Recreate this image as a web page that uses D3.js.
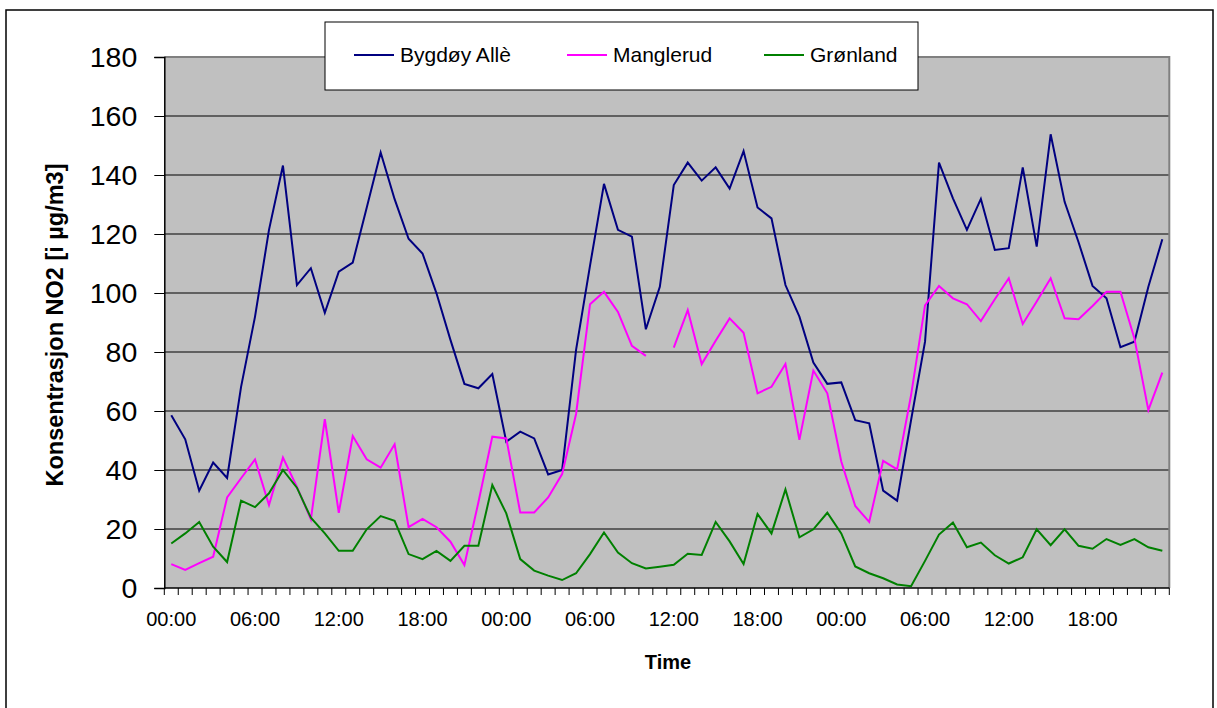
<!DOCTYPE html>
<html>
<head>
<meta charset="utf-8">
<script src="https://cdn.jsdelivr.net/npm/d3@7"></script>
<style>
  body { margin: 0; background: #fff; }
  text { font-family: "Liberation Sans", Arial, sans-serif; fill: #000; }
</style>
</head>
<body>
<div id="chart"></div>
<script>
// hourly NO2 values, 3 days (72 hours)
var bygdoy = [58.6,50.4,33.0,42.5,37.3,68.2,92.0,121.4,143.2,102.7,108.4,93.3,107.2,110.3,128.9,147.6,131.8,118.4,113.4,99.9,84.1,69.2,67.7,72.5,
              49.6,53.0,50.7,38.5,40.0,80.7,109.3,137.0,121.4,119.1,87.7,102.1,136.6,144.2,138.1,142.6,135.4,148.1,129.0,125.3,102.7,92.0,76.4,69.2,
              69.7,56.9,55.8,33.0,29.6,56.9,83.5,144.2,132.1,121.4,131.9,114.6,115.2,142.6,115.7,153.8,130.9,117.2,102.4,98.2,81.6,83.5,102.1,118.2];
var manglerud = [8.1,6.1,8.4,10.6,30.7,37.2,43.6,28.1,44.2,34.3,23.3,57.2,25.5,51.5,43.6,40.8,48.7,20.6,23.4,20.6,15.7,7.8,29.0,51.3,
                 50.7,25.6,25.6,30.7,38.6,59.0,96.2,100.4,93.6,82.1,78.7,null,81.5,94.2,75.9,83.8,91.4,86.5,66.0,68.2,75.9,50.2,73.7,66.0,
                 42.9,27.8,22.4,43.1,40.2,65.4,95.8,102.4,98.2,96.2,90.5,97.9,105.0,89.5,97.1,105.0,91.4,91.1,95.6,100.4,100.4,84.6,60.3,73.0];
var gronland = [15.1,18.5,22.4,14.0,8.8,29.6,27.4,32.1,40.0,34.0,23.8,18.5,12.6,12.6,19.9,24.4,22.8,11.5,9.8,12.6,9.2,14.3,14.3,34.9,
                25.3,9.8,5.9,4.2,2.7,5.0,11.5,18.8,12.0,8.4,6.6,7.2,7.9,11.6,11.2,22.4,15.8,8.1,25.1,18.5,33.4,17.2,19.9,25.5,
                18.5,7.3,5.0,3.3,1.2,0.6,9.2,18.1,22.2,13.8,15.4,11.1,8.3,10.4,19.9,14.5,19.9,14.3,13.3,16.6,14.6,16.6,13.8,12.6];
var seriesNames = ["Bygdøy Allè", "Manglerud", "Grønland"];
var seriesColors = ["#000080", "#ff00ff", "#008000"];
var hourLabels = ["00:00","06:00","12:00","18:00"];
var yTicks = [0,20,40,60,80,100,120,140,160,180];

var width = 1217, height = 708;
var plotL = 164.3, plotR = 1169.3, plotT = 57, plotB = 588;

var svg = d3.select("#chart").append("svg")
  .attr("width", width)
  .attr("height", height);

// outer frame
svg.append("rect")
  .attr("x", 6).attr("y", 10)
  .attr("width", 1207).attr("height", 720)
  .attr("fill", "#fff").attr("stroke", "#000").attr("stroke-width", 1.5);

var idx = d3.range(bygdoy.length);
var x = d3.scaleBand().domain(idx).range([plotL, plotR]);
var y = d3.scaleLinear().domain([0, 180]).range([plotB, plotT]);

// plot area
svg.append("rect")
  .attr("x", plotL).attr("y", plotT)
  .attr("width", plotR - plotL).attr("height", plotB - plotT)
  .attr("fill", "#c0c0c0");

// gridlines
svg.append("g").selectAll("line")
  .data(yTicks.slice(1, -1))
  .join("line")
  .attr("x1", plotL).attr("x2", plotR)
  .attr("y1", d => y(d)).attr("y2", d => y(d))
  .attr("stroke", "#000").attr("stroke-width", 1);

// top / right border
svg.append("path")
  .attr("d", `M${plotL},${plotT}H${plotR}V${plotB}`)
  .attr("fill", "none").attr("stroke", "#808080").attr("stroke-width", 2);

// y axis
var yAxis = d3.axisLeft(y).tickValues(yTicks).tickSize(10).tickPadding(17);
var gy = svg.append("g").attr("transform", `translate(${plotL},0)`).call(yAxis);
gy.selectAll("text").style("font-size", "28.5px")
  .style("font-family", "'Liberation Sans', Arial, sans-serif");
gy.select(".domain").attr("stroke", "#000").attr("stroke-width", 1.5);

// x axis: ticks on category boundaries, labels every 6 hours
var bounds = d3.range(bygdoy.length + 1);
svg.append("g").selectAll("line")
  .data(bounds)
  .join("line")
  .attr("x1", d => plotL + d * x.bandwidth())
  .attr("x2", d => plotL + d * x.bandwidth())
  .attr("y1", plotB).attr("y2", plotB + 7)
  .attr("stroke", "#000").attr("stroke-width", 1);
svg.append("line")
  .attr("x1", plotL).attr("x2", plotR)
  .attr("y1", plotB).attr("y2", plotB)
  .attr("stroke", "#000").attr("stroke-width", 1.5);
svg.append("g").selectAll("text")
  .data(idx.filter(i => i % 6 === 0))
  .join("text")
  .attr("x", i => x(i) + x.bandwidth() / 2)
  .attr("y", 626)
  .attr("text-anchor", "middle")
  .style("font-size", "20px")
  .text(i => hourLabels[(i / 6) % 4]);

// lines
var allSeries = [bygdoy, manglerud, gronland];
var line = d3.line()
  .defined(d => d != null)
  .x((d, i) => x(i) + x.bandwidth() / 2)
  .y(d => y(d));

svg.append("g").selectAll("path")
  .data(allSeries)
  .join("path")
  .attr("d", d => line(d))
  .attr("fill", "none")
  .attr("stroke", (d, i) => seriesColors[i])
  .attr("stroke-width", 2)
  .attr("stroke-linejoin", "miter");

// axis titles
svg.append("text")
  .attr("transform", "translate(63,325) rotate(-90)")
  .attr("text-anchor", "middle")
  .style("font-size", "23.5px").style("font-weight", "bold")
  .text("Konsentrasjon NO2 [i µg/m3]");
svg.append("text")
  .attr("x", 668).attr("y", 669)
  .attr("text-anchor", "middle")
  .style("font-size", "20px").style("font-weight", "bold")
  .text("Time");

// legend
var legend = svg.append("g");
legend.append("rect")
  .attr("x", 325).attr("y", 22).attr("width", 593).attr("height", 68)
  .attr("fill", "#fff").attr("stroke", "#000").attr("stroke-width", 1);
var legX = [354, 567, 764];
var item = legend.selectAll("g.item")
  .data(seriesNames)
  .join("g").attr("class", "item")
  .attr("transform", (d, i) => `translate(${legX[i]},55)`);
item.append("line")
  .attr("x1", 0).attr("x2", 40)
  .attr("stroke", (d, i) => seriesColors[i]).attr("stroke-width", 2);
item.append("text")
  .attr("x", 46).attr("y", 7)
  .style("font-size", "21px")
  .text(d => d);
</script>
</body>
</html>
